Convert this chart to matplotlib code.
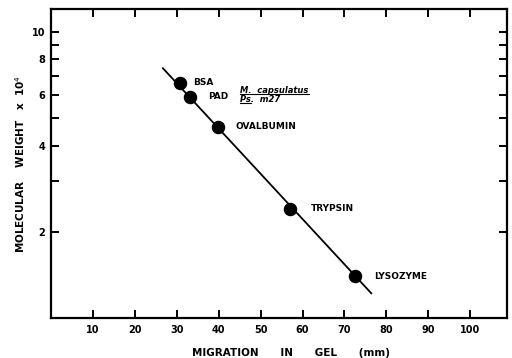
import matplotlib
matplotlib.use("Agg")
import matplotlib.pyplot as plt
from matplotlib.ticker import FixedLocator, NullFormatter, FixedFormatter
from matplotlib.lines import Line2D

# protein standards: migration (mm) vs molecular weight (x 10^4)
proteins = ["BSA", "PAD", "OVALBUMIN", "TRYPSIN", "LYSOZYME"]
migration = [30.7, 33.1, 39.8, 56.9, 72.6]
mol_weight = [6.64, 5.93, 4.66, 2.40, 1.40]

# fitted line end points
fit_x = [26.7, 76.4]
fit_y = [7.45, 1.22]

x_ticks = [10, 20, 30, 40, 50, 60, 70, 80, 90, 100]
y_major = [2, 4, 6, 8, 10]
y_minor = [3, 5, 7, 9]

plt.rcParams['font.family'] = ['DejaVu Sans']

fig = plt.figure(figsize=(5.12, 3.58), dpi=100)
ax = fig.add_axes([0.0996, 0.1117, 0.8900, 0.8632])

ax.plot(fit_x, fit_y, color='black', lw=1.3, zorder=2)
ax.plot(migration, mol_weight, 'o', color='black', ms=8.7, zorder=3)

ax.set_yscale('log')
ax.set_xlim(0, 108.7)
ax.set_ylim(1.0, 12.0)

ax.xaxis.set_major_locator(FixedLocator(x_ticks))
ax.xaxis.set_major_formatter(FixedFormatter([str(t) for t in x_ticks]))
ax.xaxis.set_minor_locator(FixedLocator([]))
ax.yaxis.set_major_locator(FixedLocator(y_major))
ax.yaxis.set_major_formatter(FixedFormatter([str(t) for t in y_major]))
ax.yaxis.set_minor_locator(FixedLocator(y_minor))
ax.yaxis.set_minor_formatter(NullFormatter())

ax.tick_params(which='both', direction='in', length=6, width=1.4,
               top=True, right=True, labelsize=7)
ax.tick_params(axis='x', pad=5)
ax.tick_params(axis='y', pad=4)
for lab in ax.get_xticklabels() + ax.get_yticklabels():
    lab.set_fontweight('bold')
for sp in ax.spines.values():
    sp.set_linewidth(1.6)

lbl = dict(fontsize=6.5, fontweight='bold', va='center', ha='left')
ax.text(34.0, 6.67, "BSA", **lbl)
ax.text(37.5, 5.93, "PAD", **lbl)
ax.text(44.0, 4.67, "OVALBUMIN", **lbl)
ax.text(62.0, 2.42, "TRYPSIN", **lbl)
ax.text(77.0, 1.40, "LYSOZYME", **lbl)

# strain names, underlined
t1 = ax.text(45.2, 6.25, "M.  capsulatus", fontsize=6, fontweight='bold',
             fontstyle='italic', va='center', ha='left')
t2 = ax.text(45.2, 5.78, "Ps.  m27", fontsize=6, fontweight='bold',
             fontstyle='italic', va='center', ha='left')
fig.canvas.draw()
r = fig.canvas.get_renderer()
inv = fig.transFigure.inverted()
b1 = t1.get_window_extent(r)
b2 = t2.get_window_extent(r)
for x0, x1, y in [(b1.x0, b1.x1, b1.y0 + 1), (b2.x0, b2.x0 + 11, b2.y0 + 1)]:
    (fx0, fy), (fx1, _) = inv.transform([(x0, y), (x1, y)])
    fig.add_artist(Line2D([fx0, fx1], [fy, fy], color='black', lw=0.8,
                          transform=fig.transFigure))

ax.set_xlabel("MIGRATION      IN      GEL      (mm)", fontsize=7.5,
              fontweight='bold')
ax.xaxis.set_label_coords(0.527, -0.097)
ax.set_ylabel("MOLECULAR    WEIGHT   x  10$^4$", fontsize=7.5,
              fontweight='bold')
ax.yaxis.set_label_coords(-0.053, 0.5)

fig.savefig("out.png", dpi=100)
